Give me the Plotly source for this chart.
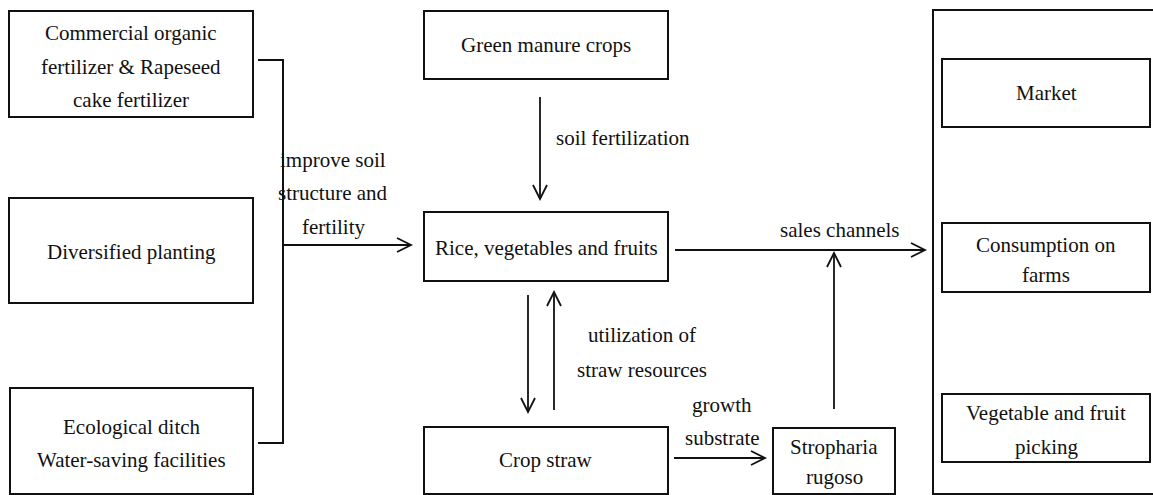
import plotly.graph_objects as go

# ---- diagram content (text) ----
node_labels = [
    "Commercial organic\nfertilizer & Rapeseed\ncake fertilizer",
    "Diversified planting",
    "Ecological ditch\nWater-saving facilities",
    "Green manure crops",
    "Rice, vegetables and fruits",
    "Crop straw",
    "Stropharia\nrugoso",
    "Market",
    "Consumption on\nfarms",
    "Vegetable and fruit\npicking",
]
edge_labels = [
    "improve soil\nstructure and\nfertility",
    "soil fertilization",
    "utilization of\nstraw resources",
    "growth\nsubstrate",
    "sales channels",
]

# ---- layout geometry (pixels, y down) ----
W, H = 1153, 495
node_boxes = [
    (9, 253, 11, 117),
    (9, 253, 198, 303),
    (10, 253, 388, 494),
    (424, 668, 11, 79),
    (424, 668, 212, 281),
    (424, 668, 427, 494),
    (773, 895, 428, 494),
    (942, 1150, 59, 127),
    (942, 1150, 223, 292),
    (942, 1150, 394, 462),
]
node_text_y = [[33, 67, 100], [252], [427, 460], [45], [248], [460], [447, 477],
               [93], [245, 275], [413, 447]]
edge_text_pos = [
    (333, [160, 193, 227]),
    (623, [138]),
    (642, [335, 370]),
    (722, [405, 438]),
    (840, [230]),
]
arrows = [  # (x0, y0, x1, y1) tail -> head
    (283, 245, 411, 245),
    (540, 97, 540, 199),
    (528, 295, 528, 412),
    (554, 410, 554, 292),
    (674, 458, 765, 458),
    (834, 409, 834, 253),
    (675, 250, 925, 250),
]
outer_box = (933, 1170, 10, 494)
connector = "M258,60 H283 V443 H258"

FONT = dict(family="Liberation Serif, Times New Roman, serif", size=21, color="#111111")
LINE = dict(color="#111111", width=2)

fig = go.Figure()
shapes = []
for (x0, x1, y0, y1) in node_boxes + [outer_box]:
    shapes.append(dict(type="rect", xref="x", yref="y", x0=x0, x1=x1, y0=y0, y1=y1,
                       line=LINE, fillcolor="rgba(0,0,0,0)"))
shapes.append(dict(type="path", xref="x", yref="y", path=connector, line=LINE))

HL, HW = 14, 7
for (x0, y0, x1, y1) in arrows:
    shapes.append(dict(type="line", xref="x", yref="y", x0=x0, y0=y0, x1=x1, y1=y1,
                       line=dict(color="#111111", width=1.8)))
    if y0 == y1:
        d = 1 if x1 > x0 else -1
        p = f"M{x1 - d*HL},{y1 - HW} L{x1},{y1} L{x1 - d*HL},{y1 + HW}"
    else:
        d = 1 if y1 > y0 else -1
        p = f"M{x1 - HW},{y1 - d*HL} L{x1},{y1} L{x1 + HW},{y1 - d*HL}"
    shapes.append(dict(type="path", xref="x", yref="y", path=p,
                       line=dict(color="#111111", width=1.8)))

annotations = []
for label, (x0, x1, y0, y1), ys in zip(node_labels, node_boxes, node_text_y):
    cx = (x0 + x1) / 2
    for line, y in zip(label.split("\n"), ys):
        annotations.append(dict(x=cx, y=y, xref="x", yref="y", text=line, showarrow=False,
                                xanchor="center", yanchor="middle", font=FONT))
for label, (cx, ys) in zip(edge_labels, edge_text_pos):
    for line, y in zip(label.split("\n"), ys):
        annotations.append(dict(x=cx, y=y, xref="x", yref="y", text=line, showarrow=False,
                                xanchor="center", yanchor="middle", font=FONT))

fig.update_layout(
    width=W, height=H, margin=dict(l=0, r=0, t=0, b=0),
    paper_bgcolor="white", plot_bgcolor="white",
    xaxis=dict(range=[0, W], visible=False, fixedrange=True),
    yaxis=dict(range=[H, 0], visible=False, fixedrange=True),
    shapes=shapes, annotations=annotations, showlegend=False,
)
fig.write_html(
    "out.html",
    config={"displayModeBar": False},
    post_script="document.body.style.margin='0';document.body.style.overflow='hidden';",
)
